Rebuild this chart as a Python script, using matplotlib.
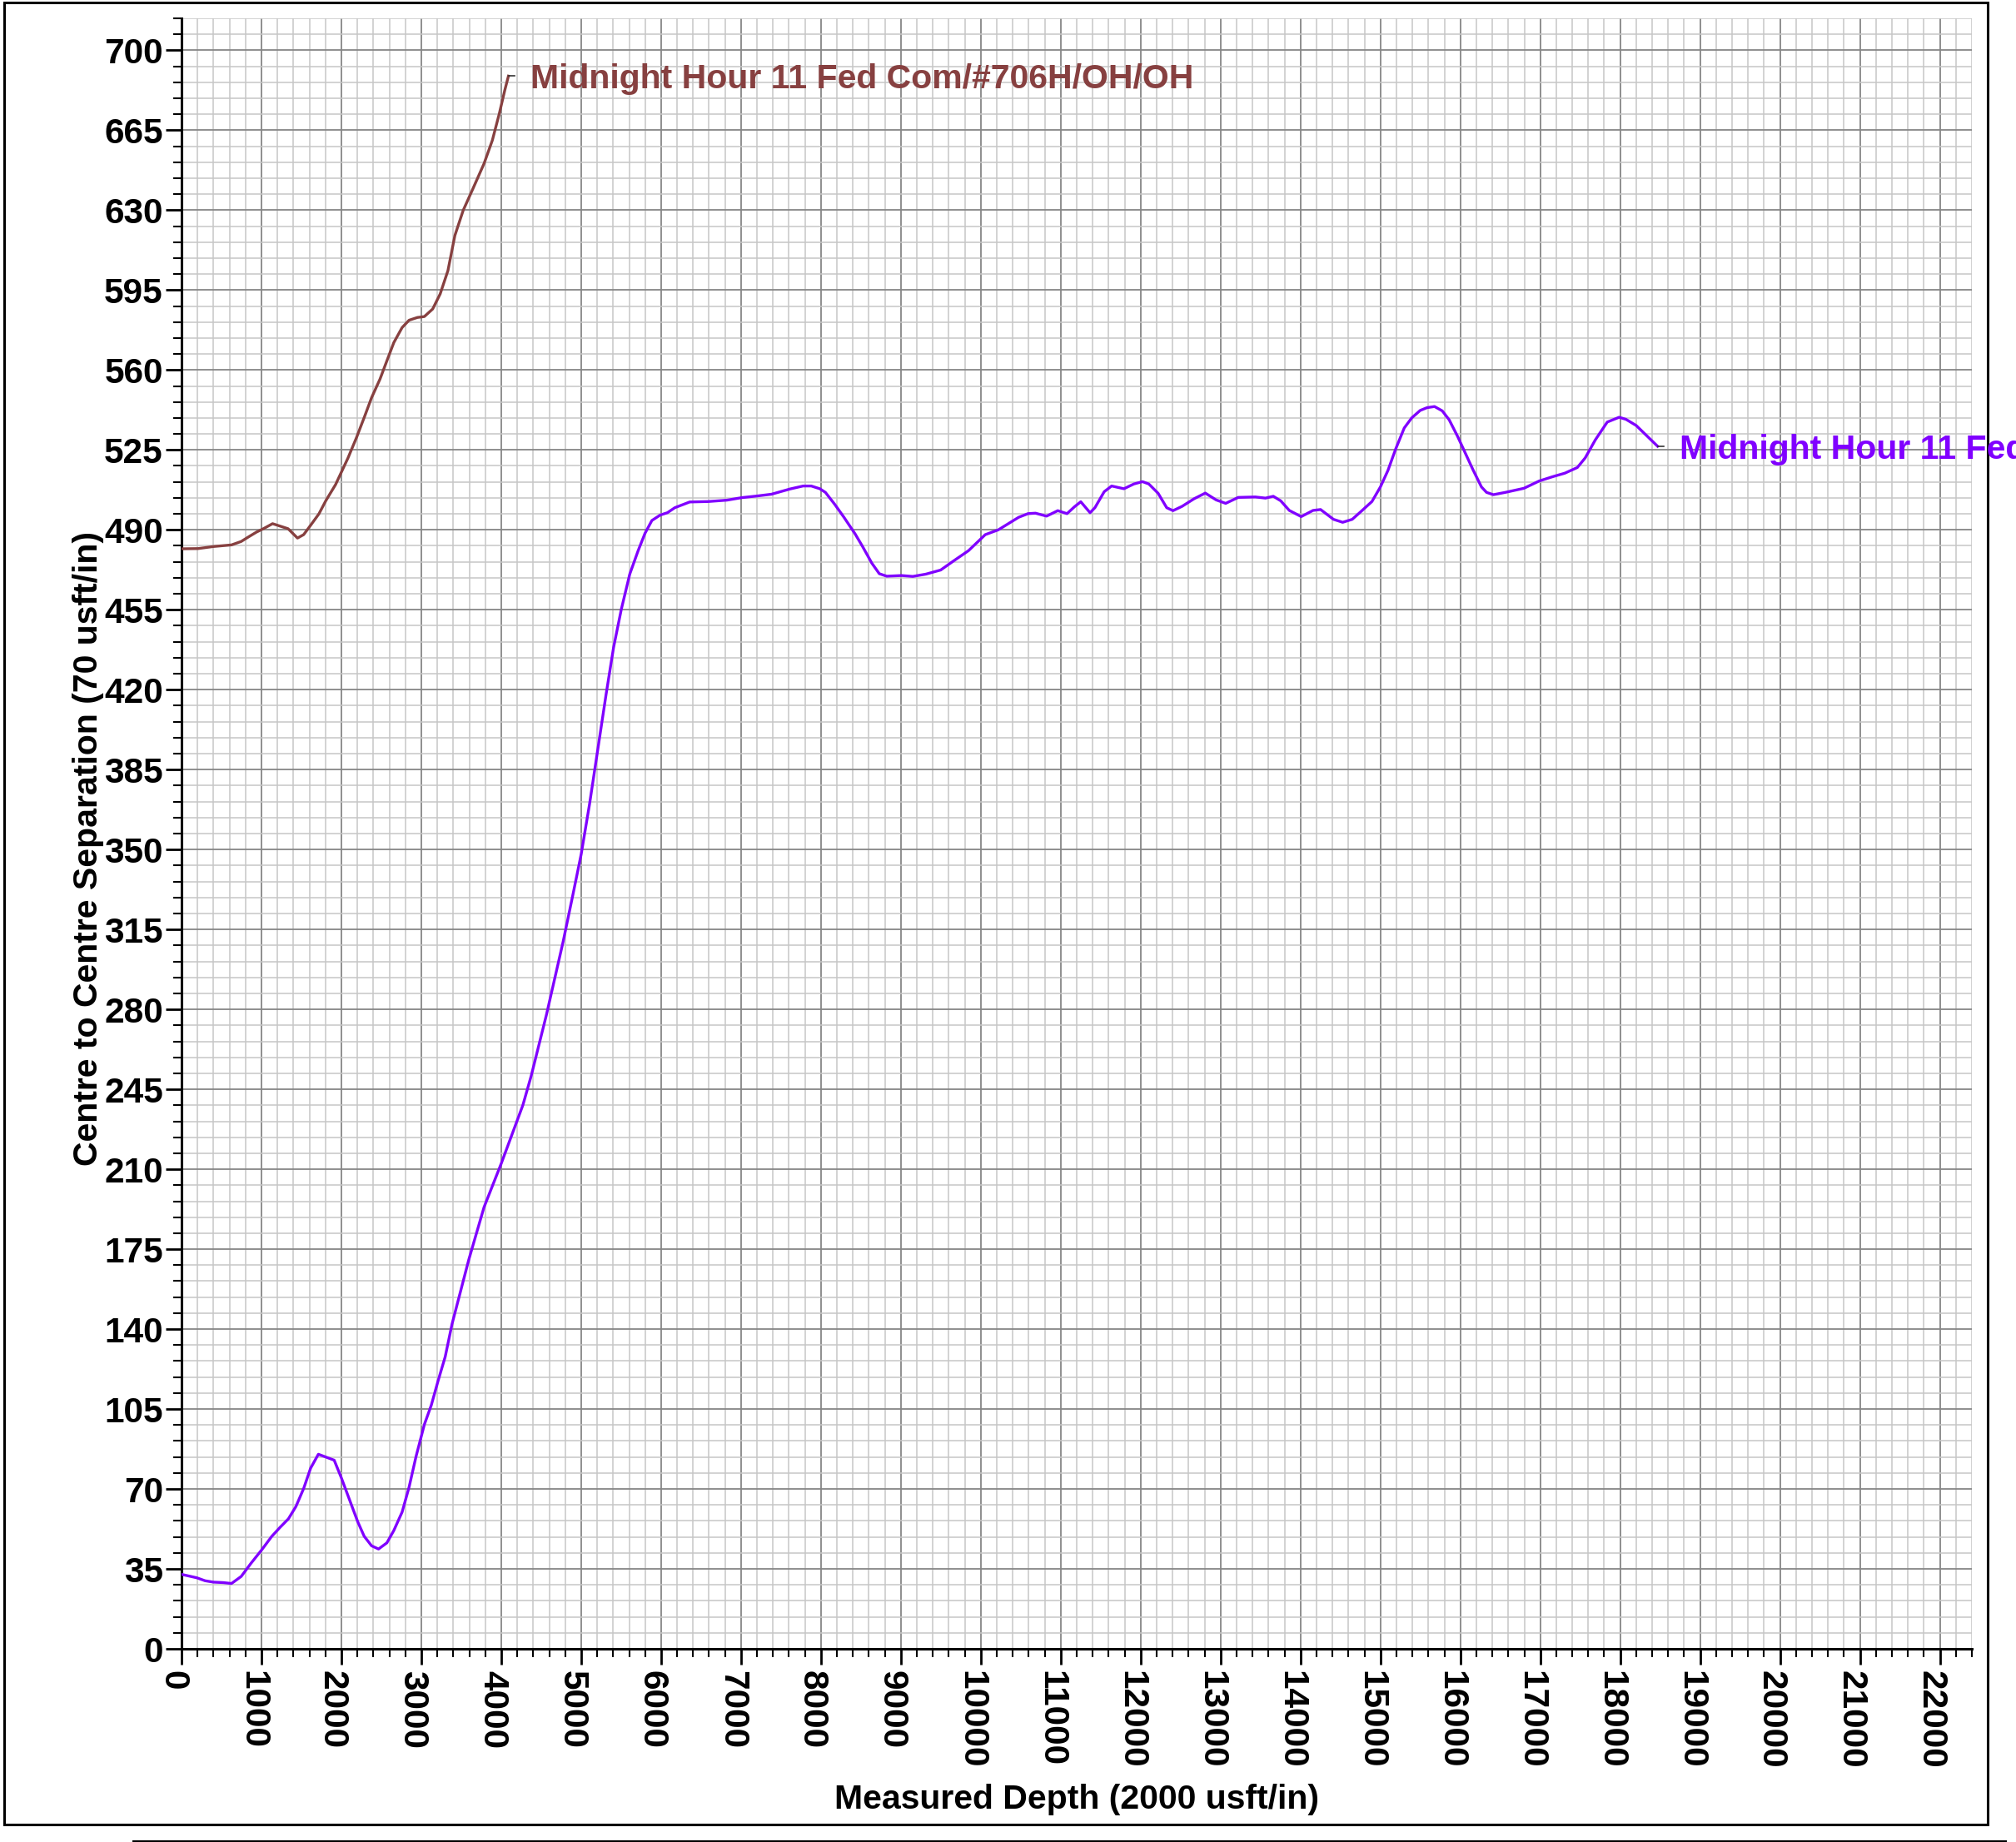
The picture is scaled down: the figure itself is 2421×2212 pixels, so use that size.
import matplotlib
matplotlib.use("Agg")
import matplotlib.pyplot as plt
from matplotlib.ticker import FixedLocator, MultipleLocator
from matplotlib.patches import Rectangle
from matplotlib.lines import Line2D
from matplotlib.transforms import ScaledTranslation

plt.rcParams['font.family'] = ['Liberation Sans', 'DejaVu Sans']
plt.rcParams['font.weight'] = 'bold'

# ---------------- data ----------------
brown_name = "Midnight Hour 11 Fed Com/#706H/OH/OH"
purple_name = "Midnight Hour 11 Fed"

brown_md = [0, 208, 400, 625, 746, 833, 937, 1024, 1139, 1333, 1451, 1528, 1615, 1719,
            1806, 1927, 2083, 2188, 2292, 2378, 2483, 2569, 2656, 2760, 2847, 2951, 3038,
            3142, 3236, 3333, 3420, 3524, 3646, 3785, 3889, 3976, 4045, 4090]
brown_sep = [481.7, 481.8, 482.7, 483.4, 484.9, 486.8, 489.0, 490.5, 492.7, 490.5, 486.4,
             487.9, 492.0, 497.0, 502.8, 509.8, 521.5, 530.3, 539.8, 547.9, 556.0, 564.0,
             572.0, 578.6, 581.8, 583.0, 583.4, 586.7, 593.3, 603.5, 618.9, 629.9, 639.4,
             650.4, 660.6, 672.3, 682.6, 688.7]

purple_md = [0, 191, 295, 399, 521, 625, 747, 868, 1007, 1128,
             1233, 1337, 1431, 1528, 1615, 1712, 1910, 1997, 2101, 2205,
             2285, 2378, 2465, 2569, 2656, 2760, 2847, 2934, 3038, 3125,
             3212, 3299, 3385, 3594, 3785, 4000, 4271, 4375, 4566, 4774,
             4896, 5000, 5104, 5208, 5313, 5406, 5503, 5608, 5712, 5799,
             5885, 5990, 6079, 6172, 6358, 6591, 6823, 7009, 7195, 7381,
             7614, 7777, 7879, 7986, 8056, 8172, 8288, 8428, 8521, 8637,
             8730, 8823, 9009, 9149, 9312, 9498, 9660, 9847, 10056, 10219,
             10474, 10591, 10684, 10823, 10963, 11079, 11172, 11251, 11367, 11428,
             11544, 11637, 11791, 11916, 12023, 12102, 12219, 12326, 12405, 12519,
             12668, 12809, 12945, 13064, 13221, 13434, 13562, 13660, 13753, 13860,
             14009, 14157, 14251, 14413, 14528, 14647, 14753, 14894, 15000, 15094,
             15191, 15298, 15391, 15498, 15583, 15677, 15774, 15860, 15966, 16072,
             16157, 16264, 16328, 16413, 16562, 16796, 16987, 17157, 17306, 17464,
             17562, 17689, 17838, 17987, 18072, 18200, 18306, 18468]
purple_sep = [32.6, 31.1, 29.8, 29.2, 29.0, 28.6, 31.7, 37.4, 43.5, 49.2,
              53.2, 56.9, 62.3, 70.2, 79.1, 85.2, 82.6, 75.1, 65.4, 55.6,
              49.3, 45.1, 43.7, 46.4, 51.8, 59.9, 70.8, 84.2, 98.2, 106.7,
              117.6, 127.9, 142.3, 170.4, 193.4, 212.5, 238.1, 250.9, 277.7, 309.6,
              330.1, 347.9, 369.7, 393.9, 418.2, 438.6, 455.3, 470.6, 480.8, 488.5,
              494.1, 496.5, 497.5, 499.7, 502.2, 502.4, 503.0, 504.1, 504.8, 505.6,
              507.9, 509.2, 509.2, 508.0, 506.4, 501.2, 495.5, 488.2, 482.7, 475.4,
              470.8, 469.7, 470.0, 469.6, 470.6, 472.4, 476.4, 480.9, 487.9, 490.0,
              495.5, 497.1, 497.3, 496.0, 498.4, 497.1, 500.1, 502.3, 497.5, 499.7,
              506.7, 509.2, 508.0, 510.1, 511.1, 510.1, 506.0, 499.7, 498.4, 500.3,
              503.6, 506.1, 503.1, 501.6, 504.2, 504.4, 503.9, 504.7, 502.7, 498.5,
              495.8, 498.5, 498.9, 494.6, 493.3, 494.6, 497.9, 502.4, 508.8, 516.0,
              525.4, 534.6, 539.0, 542.3, 543.5, 544.0, 542.1, 538.2, 530.9, 522.9,
              516.4, 508.8, 506.4, 505.4, 506.4, 508.2, 511.4, 513.3, 514.8, 517.3,
              521.5, 529.4, 537.2, 539.3, 538.4, 535.7, 532.1, 526.6]

x_ticks = [0, 1000, 2000, 3000, 4000, 5000, 6000, 7000, 8000, 9000, 10000, 11000,
           12000, 13000, 14000, 15000, 16000, 17000, 18000, 19000, 20000, 21000, 22000]
x_tick_labels = [str(v) for v in x_ticks]
y_ticks = [0, 35, 70, 105, 140, 175, 210, 245, 280, 315, 350, 385, 420, 455, 490,
           525, 560, 595, 630, 665, 700]
y_tick_labels = [str(v) for v in y_ticks]

x_label = "Measured Depth (2000 usft/in)"
y_label = "Centre to Centre Separation (70 usft/in)"

# ---------------- style ----------------
BROWN = '#874040'
PURPLE = '#8000FF'
FS = 29.5
TFS = 30.5
W, H = 2421, 2212

fig = plt.figure(figsize=(W / 100, H / 100), dpi=100)
fig.patch.set_facecolor('white')
ax = fig.add_axes([218 / W, 1 - 1980 / H, (2368 - 218) / W, (1980 - 22) / H])

ax.set_xlim(0, 22400)
ax.set_ylim(0, 714)

ax.xaxis.set_major_locator(FixedLocator(x_ticks))
ax.set_xticklabels(x_tick_labels)
ax.xaxis.set_minor_locator(MultipleLocator(200))
ax.yaxis.set_major_locator(FixedLocator(y_ticks))
ax.set_yticklabels(y_tick_labels)
ax.yaxis.set_minor_locator(MultipleLocator(7))

ax.set_axisbelow(True)
ax.grid(which='minor', color='#c6c6c6', lw=1.1)
ax.grid(which='major', color='#868686', lw=1.3)

for s in ('top', 'right'):
    ax.spines[s].set_visible(False)
for s in ('left', 'bottom'):
    ax.spines[s].set_linewidth(2.2)
    ax.spines[s].set_color('black')

ax.tick_params(which='major', length=14, width=2, direction='out', color='black',
               labelsize=TFS)
ax.tick_params(which='minor', length=7, width=1.5, direction='out', color='black')
ax.tick_params(axis='y', which='major', pad=2)
ax.tick_params(axis='x', which='major', pad=5, labelrotation=-90)
shift = ScaledTranslation(-0.11, 0, fig.dpi_scale_trans)
for lab in ax.get_xticklabels():
    lab.set_fontweight('bold')
    lab.set_transform(lab.get_transform() + shift)
for lab in ax.get_yticklabels():
    lab.set_fontweight('bold')

# curves
ax.plot(brown_md, brown_sep, color=BROWN, lw=2.4, solid_joinstyle='round', zorder=3)
ax.plot(purple_md, purple_sep, color=PURPLE, lw=2.4, solid_joinstyle='round', zorder=3)

# leaders + labels
for md, sep, name, col in ((brown_md, brown_sep, brown_name, BROWN),
                           (purple_md, purple_sep, purple_name, PURPLE)):
    ax.plot([md[-1], md[-1] + 80], [sep[-1], sep[-1]], color='#333333', lw=1.2,
            zorder=3, clip_on=False)
    ax.annotate(name, xy=(md[-1], sep[-1]), xytext=(19, -10.6), textcoords='offset points',
                color=col, fontsize=FS, fontweight='bold', ha='left', va='baseline',
                annotation_clip=False, zorder=5)

# axis labels
fig.text(1293 / W, 1 - 2172 / H, x_label, fontsize=FS, fontweight='bold',
         ha='center', va='baseline')
fig.text(106 / W, 1 - 1019 / H, y_label, fontsize=FS, fontweight='bold',
         ha='center', va='center', rotation=90)

# outer frame and bottom rule
fig.add_artist(Rectangle((5 / W, 1 - 2191 / H), (2387 - 5) / W, (2191 - 3) / H,
                         transform=fig.transFigure, fill=False, ec='black', lw=2.2,
                         zorder=-1))
fig.add_artist(Line2D([160 / W, 2408 / W], [1.5 / H, 1.5 / H], transform=fig.transFigure,
                      color='black', lw=2.2, zorder=-1))

fig.savefig('out.png', dpi=100)
